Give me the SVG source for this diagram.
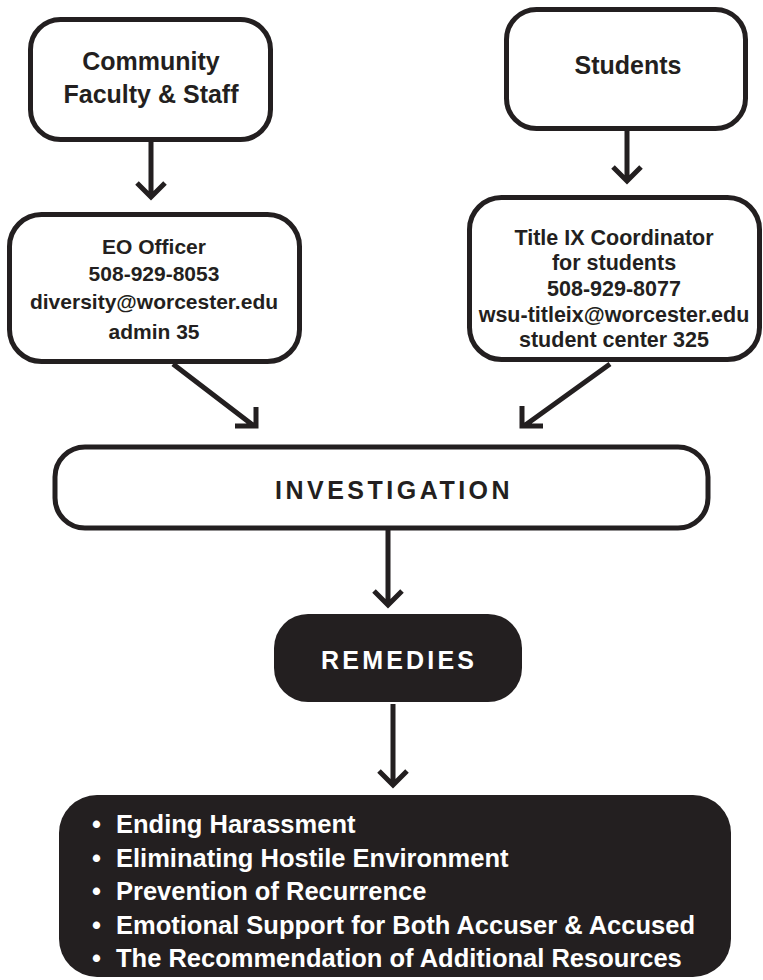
<svg xmlns="http://www.w3.org/2000/svg" width="763" height="980" viewBox="0 0 763 980">
<style>
.box{fill:#fff;stroke:#231f20;stroke-width:5}
.dark{fill:#231f20}
.t{font-family:"Liberation Sans",Arial,Helvetica,sans-serif;font-weight:bold;fill:#231f20;text-anchor:middle}
.w{font-family:"Liberation Sans",Arial,Helvetica,sans-serif;font-weight:bold;fill:#fff}
.c{fill:none;stroke:#231f20;stroke-width:5;stroke-linecap:butt;stroke-linejoin:miter}
</style>
<rect width="763" height="980" fill="#fff"/>
<g id="connectors">
  <path class="c" d="M151 142 V197 M137 183 L151 197 L165 183"/>
  <path class="c" d="M627 131 V181 M613 167 L627 181 L641 167"/>
  <path class="c" d="M173 364 L254 426 M235 426 H256 V407"/>
  <path class="c" d="M610 364 L524 426 M543 426 H522 V406"/>
  <path class="c" d="M388 530 V605 M374 591 L388 605 L402 591"/>
  <path class="c" d="M393 704 V785 M379 771 L393 785 L407 771"/>
</g>
<g id="community">
  <rect class="box" x="30.5" y="19.5" width="240" height="120" rx="30"/>
  <text class="t" font-size="25" x="151" y="70">Community</text>
  <text class="t" font-size="25" x="151" y="103">Faculty &amp; Staff</text>
</g>
<g id="students">
  <rect class="box" x="506.5" y="9.5" width="239" height="119" rx="30"/>
  <text class="t" font-size="25" x="628" y="74">Students</text>
</g>
<g id="eo-officer">
  <rect class="box" x="9.5" y="214.5" width="290" height="147" rx="32"/>
  <text class="t" font-size="21" x="154" y="254">EO Officer</text>
  <text class="t" font-size="21" x="154" y="281">508-929-8053</text>
  <text class="t" font-size="21" x="154" y="309">diversity@worcester.edu</text>
  <text class="t" font-size="21" x="154" y="339">admin 35</text>
</g>
<g id="title-ix">
  <rect class="box" x="469.5" y="197.5" width="290" height="162" rx="32"/>
  <text class="t" font-size="21.5" x="614" y="245">Title IX Coordinator</text>
  <text class="t" font-size="21.5" x="614" y="270">for students</text>
  <text class="t" font-size="21.5" x="614" y="296">508-929-8077</text>
  <text class="t" font-size="21.5" x="614" y="322">wsu-titleix@worcester.edu</text>
  <text class="t" font-size="21.5" x="614" y="347">student center 325</text>
</g>
<g id="investigation">
  <rect class="box" x="55" y="447" width="653" height="81" rx="30" stroke-width="4"/>
  <text class="t" font-size="25" x="275" y="499" style="text-anchor:start;letter-spacing:3.5px">INVESTIGATION</text>
</g>
<g id="remedies">
  <rect class="dark" x="274" y="614" width="248" height="88" rx="34"/>
  <text class="w" font-size="25" x="321" y="669" style="letter-spacing:3.2px">REMEDIES</text>
</g>
<g id="outcomes">
  <rect class="dark" x="59" y="795" width="672" height="182" rx="38"/>
  <text class="w" font-size="25.5" y="833"><tspan x="92">•</tspan><tspan x="116">Ending Harassment</tspan></text>
  <text class="w" font-size="25.5" y="866.5"><tspan x="92">•</tspan><tspan x="116">Eliminating Hostile Environment</tspan></text>
  <text class="w" font-size="25.5" y="900"><tspan x="92">•</tspan><tspan x="116">Prevention of Recurrence</tspan></text>
  <text class="w" font-size="25.5" y="933.5"><tspan x="92">•</tspan><tspan x="116">Emotional Support for Both Accuser &amp; Accused</tspan></text>
  <text class="w" font-size="25.5" y="967"><tspan x="92">•</tspan><tspan x="116">The Recommendation of Additional Resources</tspan></text>
</g>
</svg>
